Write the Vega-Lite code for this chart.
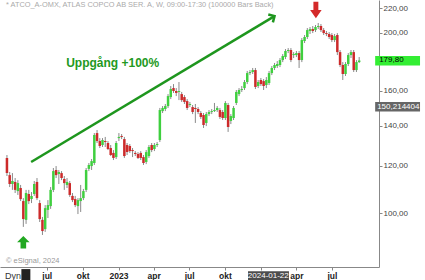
{
  "$schema": "https://vega.github.io/schema/vega-lite/v6.json",
  "width": 379,
  "height": 267,
  "autosize": {"type": "none"},
  "padding": {"left": 0, "top": 0, "right": 46, "bottom": 13},
  "background": "white",
  "config": {"view": {"stroke": null}, "font": "Liberation Sans", "axis": {"labelFont": "Liberation Sans"}},
  "data": {"values": [
    {"d":"2022-03-21","o":123.6,"c":116.6,"h":125.0,"l":115.3},
    {"d":"2022-03-28","o":115.7,"c":111.8,"h":117.1,"l":110.5},
    {"d":"2022-04-04","o":111.8,"c":113.1,"h":116.6,"l":109.3},
    {"d":"2022-04-11","o":112.7,"c":109.3,"h":114.4,"l":108.0},
    {"d":"2022-04-18","o":108.8,"c":112.2,"h":113.5,"l":107.2},
    {"d":"2022-04-25","o":110.1,"c":105.5,"h":111.4,"l":104.7},
    {"d":"2022-05-02","o":104.7,"c":97.7,"h":105.9,"l":94.8},
    {"d":"2022-05-09","o":97.4,"c":108.0,"h":109.3,"l":95.9},
    {"d":"2022-05-16","o":107.6,"c":104.7,"h":109.3,"l":103.5},
    {"d":"2022-05-23","o":105.5,"c":106.8,"h":108.4,"l":103.9},
    {"d":"2022-05-30","o":107.6,"c":111.8,"h":113.1,"l":106.8},
    {"d":"2022-06-06","o":112.7,"c":105.9,"h":114.4,"l":105.1},
    {"d":"2022-06-13","o":103.9,"c":97.7,"h":105.1,"l":96.6},
    {"d":"2022-06-20","o":97.4,"c":93.3,"h":98.5,"l":91.9},
    {"d":"2022-06-27","o":94.0,"c":101.9,"h":103.1,"l":93.0},
    {"d":"2022-07-04","o":101.2,"c":103.1,"h":105.1,"l":98.1},
    {"d":"2022-07-11","o":102.7,"c":109.3,"h":110.5,"l":101.6},
    {"d":"2022-07-18","o":109.3,"c":117.5,"h":118.9,"l":108.4},
    {"d":"2022-07-25","o":118.0,"c":115.7,"h":119.8,"l":114.4},
    {"d":"2022-08-01","o":116.2,"c":117.1,"h":118.0,"l":111.8},
    {"d":"2022-08-08","o":116.6,"c":114.4,"h":117.5,"l":113.5},
    {"d":"2022-08-15","o":114.0,"c":112.2,"h":115.3,"l":109.3},
    {"d":"2022-08-22","o":111.4,"c":112.7,"h":114.4,"l":110.1},
    {"d":"2022-08-29","o":112.2,"c":107.2,"h":113.1,"l":106.4},
    {"d":"2022-09-05","o":106.8,"c":105.1,"h":108.0,"l":104.3},
    {"d":"2022-09-12","o":105.5,"c":103.1,"h":106.8,"l":102.3},
    {"d":"2022-09-19","o":102.7,"c":105.1,"h":105.9,"l":99.6},
    {"d":"2022-09-26","o":104.7,"c":105.9,"h":111.4,"l":100.4},
    {"d":"2022-10-03","o":105.9,"c":108.8,"h":109.7,"l":105.1},
    {"d":"2022-10-10","o":109.3,"c":118.0,"h":118.9,"l":108.4},
    {"d":"2022-10-17","o":118.5,"c":120.3,"h":121.2,"l":117.5},
    {"d":"2022-10-24","o":119.8,"c":122.1,"h":123.1,"l":118.0},
    {"d":"2022-10-31","o":121.2,"c":135.0,"h":136.0,"l":120.3},
    {"d":"2022-11-07","o":136.0,"c":131.9,"h":137.6,"l":130.9},
    {"d":"2022-11-14","o":131.9,"c":129.4,"h":133.4,"l":128.4},
    {"d":"2022-11-21","o":129.9,"c":132.4,"h":133.4,"l":128.9},
    {"d":"2022-11-28","o":131.9,"c":131.4,"h":134.0,"l":128.9},
    {"d":"2022-12-05","o":130.9,"c":127.9,"h":131.9,"l":127.4},
    {"d":"2022-12-12","o":128.4,"c":125.0,"h":129.9,"l":124.5},
    {"d":"2022-12-19","o":126.0,"c":123.6,"h":127.4,"l":122.6},
    {"d":"2022-12-26","o":124.0,"c":130.9,"h":131.9,"l":123.1},
    {"d":"2023-01-02","o":133.4,"c":134.0,"h":136.0,"l":131.9},
    {"d":"2023-01-09","o":134.5,"c":134.0,"h":135.5,"l":132.9},
    {"d":"2023-01-16","o":132.9,"c":124.5,"h":134.0,"l":123.6},
    {"d":"2023-01-23","o":129.9,"c":126.4,"h":130.9,"l":125.0},
    {"d":"2023-01-30","o":129.4,"c":126.9,"h":130.4,"l":126.0},
    {"d":"2023-02-06","o":127.4,"c":126.9,"h":128.4,"l":124.0},
    {"d":"2023-02-13","o":126.0,"c":125.5,"h":126.9,"l":124.5},
    {"d":"2023-02-20","o":125.5,"c":123.6,"h":126.4,"l":123.1},
    {"d":"2023-02-27","o":126.0,"c":123.6,"h":126.9,"l":122.6},
    {"d":"2023-03-06","o":124.0,"c":121.2,"h":125.0,"l":120.3},
    {"d":"2023-03-13","o":121.7,"c":126.4,"h":127.4,"l":120.7},
    {"d":"2023-03-20","o":124.5,"c":128.9,"h":129.9,"l":123.6},
    {"d":"2023-03-27","o":129.9,"c":127.4,"h":130.9,"l":126.4},
    {"d":"2023-04-03","o":127.9,"c":129.9,"h":130.9,"l":126.9},
    {"d":"2023-04-10","o":129.9,"c":130.4,"h":131.4,"l":128.9},
    {"d":"2023-04-17","o":132.4,"c":148.6,"h":149.8,"l":131.4},
    {"d":"2023-04-24","o":148.0,"c":149.8,"h":150.9,"l":146.9},
    {"d":"2023-05-01","o":149.2,"c":150.9,"h":152.1,"l":148.0},
    {"d":"2023-05-08","o":150.9,"c":156.8,"h":158.0,"l":149.8},
    {"d":"2023-05-15","o":156.2,"c":161.1,"h":163.0,"l":155.0},
    {"d":"2023-05-22","o":161.7,"c":159.9,"h":164.2,"l":158.7},
    {"d":"2023-05-29","o":159.9,"c":158.7,"h":161.7,"l":156.8},
    {"d":"2023-06-05","o":159.3,"c":159.9,"h":165.5,"l":154.4},
    {"d":"2023-06-12","o":158.0,"c":154.4,"h":159.3,"l":153.3},
    {"d":"2023-06-19","o":156.2,"c":153.3,"h":157.4,"l":152.1},
    {"d":"2023-06-26","o":153.8,"c":149.8,"h":155.0,"l":148.6},
    {"d":"2023-07-03","o":151.5,"c":152.1,"h":153.3,"l":150.3},
    {"d":"2023-07-10","o":150.3,"c":147.5,"h":151.5,"l":146.3},
    {"d":"2023-07-17","o":149.8,"c":149.2,"h":152.1,"l":141.4},
    {"d":"2023-07-24","o":149.2,"c":147.5,"h":150.3,"l":146.3},
    {"d":"2023-07-31","o":146.9,"c":144.7,"h":148.0,"l":143.6},
    {"d":"2023-08-07","o":145.8,"c":140.3,"h":146.9,"l":138.7},
    {"d":"2023-08-14","o":141.4,"c":146.3,"h":147.5,"l":139.7},
    {"d":"2023-08-21","o":146.3,"c":147.5,"h":148.6,"l":145.2},
    {"d":"2023-08-28","o":147.5,"c":148.0,"h":149.2,"l":146.3},
    {"d":"2023-09-04","o":148.0,"c":148.6,"h":152.7,"l":147.5},
    {"d":"2023-09-11","o":148.6,"c":149.8,"h":150.9,"l":147.5},
    {"d":"2023-09-18","o":148.6,"c":144.7,"h":149.8,"l":143.6},
    {"d":"2023-09-25","o":147.5,"c":144.1,"h":148.6,"l":143.0},
    {"d":"2023-10-02","o":144.1,"c":152.7,"h":153.8,"l":143.0},
    {"d":"2023-10-09","o":151.5,"c":139.2,"h":152.7,"l":136.6},
    {"d":"2023-10-16","o":142.5,"c":145.2,"h":146.3,"l":140.8},
    {"d":"2023-10-23","o":144.1,"c":149.8,"h":150.9,"l":143.0},
    {"d":"2023-10-30","o":152.7,"c":159.3,"h":160.5,"l":151.5},
    {"d":"2023-11-06","o":158.0,"c":160.5,"h":161.7,"l":156.8},
    {"d":"2023-11-13","o":160.5,"c":161.1,"h":163.0,"l":159.3},
    {"d":"2023-11-20","o":161.7,"c":165.5,"h":166.8,"l":160.5},
    {"d":"2023-11-27","o":165.5,"c":171.3,"h":172.7,"l":164.2},
    {"d":"2023-12-04","o":171.3,"c":172.0,"h":173.3,"l":170.0},
    {"d":"2023-12-11","o":172.0,"c":173.3,"h":174.7,"l":170.7},
    {"d":"2023-12-18","o":173.3,"c":162.4,"h":174.7,"l":161.1},
    {"d":"2023-12-25","o":163.0,"c":165.5,"h":166.8,"l":161.7},
    {"d":"2024-01-01","o":166.8,"c":164.2,"h":168.1,"l":163.0},
    {"d":"2024-01-08","o":166.1,"c":163.0,"h":167.4,"l":160.5},
    {"d":"2024-01-15","o":163.6,"c":166.8,"h":168.7,"l":161.7},
    {"d":"2024-01-22","o":164.9,"c":171.3,"h":172.7,"l":163.6},
    {"d":"2024-01-29","o":171.3,"c":174.7,"h":176.0,"l":170.0},
    {"d":"2024-02-05","o":174.7,"c":176.7,"h":178.1,"l":173.3},
    {"d":"2024-02-12","o":176.0,"c":177.4,"h":179.4,"l":174.7},
    {"d":"2024-02-19","o":176.7,"c":180.1,"h":181.5,"l":175.3},
    {"d":"2024-02-26","o":180.1,"c":182.9,"h":184.3,"l":178.7},
    {"d":"2024-03-04","o":182.2,"c":186.5,"h":187.9,"l":180.8},
    {"d":"2024-03-11","o":186.5,"c":187.2,"h":188.6,"l":185.0},
    {"d":"2024-03-18","o":187.2,"c":180.1,"h":188.6,"l":178.7},
    {"d":"2024-03-25","o":183.6,"c":184.3,"h":185.7,"l":181.5},
    {"d":"2024-04-01","o":183.6,"c":185.0,"h":186.5,"l":182.2},
    {"d":"2024-04-08","o":185.0,"c":180.1,"h":186.5,"l":174.7},
    {"d":"2024-04-15","o":180.1,"c":194.5,"h":196.0,"l":178.7},
    {"d":"2024-04-22","o":193.8,"c":196.8,"h":198.3,"l":192.3},
    {"d":"2024-04-29","o":196.8,"c":202.1,"h":203.7,"l":195.3},
    {"d":"2024-05-06","o":201.4,"c":202.9,"h":204.5,"l":199.1},
    {"d":"2024-05-13","o":202.9,"c":201.4,"h":205.3,"l":199.8},
    {"d":"2024-05-20","o":202.1,"c":204.5,"h":206.1,"l":200.6},
    {"d":"2024-05-27","o":204.5,"c":205.3,"h":207.7,"l":202.9},
    {"d":"2024-06-03","o":205.3,"c":202.1,"h":206.9,"l":200.6},
    {"d":"2024-06-10","o":202.1,"c":199.8,"h":203.7,"l":198.3},
    {"d":"2024-06-17","o":199.8,"c":199.1,"h":201.4,"l":197.5},
    {"d":"2024-06-24","o":199.1,"c":196.8,"h":200.6,"l":195.3},
    {"d":"2024-07-01","o":198.3,"c":194.5,"h":199.8,"l":193.0},
    {"d":"2024-07-08","o":194.5,"c":197.5,"h":199.1,"l":193.0},
    {"d":"2024-07-15","o":198.3,"c":185.7,"h":199.8,"l":183.6},
    {"d":"2024-07-22","o":185.7,"c":176.7,"h":187.2,"l":175.3},
    {"d":"2024-07-29","o":176.7,"c":170.7,"h":178.7,"l":166.8},
    {"d":"2024-08-05","o":170.7,"c":177.4,"h":178.7,"l":169.4},
    {"d":"2024-08-12","o":177.4,"c":183.6,"h":185.0,"l":176.0},
    {"d":"2024-08-19","o":183.6,"c":185.7,"h":187.2,"l":181.5},
    {"d":"2024-08-26","o":185.7,"c":173.3,"h":187.2,"l":172.0},
    {"d":"2024-09-02","o":173.3,"c":178.7,"h":180.1,"l":172.0},
    {"d":"2024-09-09","o":178.7,"c":179.8,"h":182.2,"l":178.1}
  ]},
  "layer": [
    {
      "mark": {"type": "rule", "strokeWidth": 1},
      "encoding": {
        "x": {"field": "d", "type": "temporal",
          "scale": {"type": "utc", "domain": [{"year": 2022, "month": 3, "date": 16, "utc": true}, {"year": 2024, "month": 10, "date": 17, "utc": true}]},
          "axis": {"title": null, "grid": false,
            "values": [{"year": 2022, "month": 7, "date": 1, "utc": true}, {"year": 2022, "month": 10, "date": 1, "utc": true}, {"year": 2023, "month": 1, "date": 1, "utc": true}, {"year": 2023, "month": 4, "date": 1, "utc": true}, {"year": 2023, "month": 7, "date": 1, "utc": true}, {"year": 2023, "month": 10, "date": 1, "utc": true}, {"year": 2024, "month": 1, "date": 1, "utc": true}, {"year": 2024, "month": 4, "date": 1, "utc": true}, {"year": 2024, "month": 7, "date": 1, "utc": true}],
            "labelExpr": "utcmonth(datum.value)==0 ? (utcyear(datum.value)==2024 ? '' : ''+utcyear(datum.value)) : utcmonth(datum.value)==3 ? 'apr' : utcmonth(datum.value)==6 ? 'jul' : 'okt'",
            "domainColor": "#888888", "tickColor": "#888888", "tickSize": 3, "labelFontSize": 8.5, "labelFontWeight": "bold", "labelColor": "#222222", "labelPadding": 1, "labelFlush": false, "labelOverlap": false}},
        "y": {"field": "l", "type": "quantitative",
          "scale": {"type": "log", "domain": [81.25, 226.9], "nice": false},
          "axis": {"orient": "right", "title": null, "grid": false, "values": [100, 120, 140, 160, 200, 220],
            "labelExpr": "replace(format(datum.value, '.2f'), '.', ',')",
            "domainColor": "#888888", "tickColor": "#888888", "tickSize": 3, "labelFontSize": 8, "labelColor": "#444444", "labelPadding": 1}},
        "y2": {"field": "h"},
        "color": {"value": "#8a8a8a"}
      }
    },
    {
      "mark": {"type": "bar", "width": 2.5},
      "encoding": {
        "x": {"field": "d", "type": "temporal"},
        "y": {"field": "o", "type": "quantitative"},
        "y2": {"field": "c"},
        "color": {"condition": {"test": "datum.c >= datum.o", "value": "#3fcf3f"}, "value": "#cc2a2a"}
      }
    },
    {
      "data": {"values": [{}]},
      "mark": {"type": "text", "text": "* ATCO_A-OMX, ATLAS COPCO AB SER. A, W, 09:00-17:30 (100000 Bars Back)", "align": "left", "baseline": "middle", "fontSize": 7.4, "color": "#aaaaaa", "dx": 1},
      "encoding": {"x": {"datum": {"year": 2022, "month": 3, "date": 16, "utc": true}}, "y": {"datum": 222.5}}
    },
    {
      "data": {"values": [{}]},
      "mark": {"type": "text", "text": "Uppgång +100%", "align": "center", "baseline": "middle", "fontSize": 12, "fontWeight": "bold", "color": "#229922"},
      "encoding": {"x": {"datum": {"year": 2022, "month": 12, "date": 17, "utc": true}}, "y": {"datum": 178}}
    },
    {
      "data": {"values": [{}]},
      "mark": {"type": "rule", "strokeWidth": 2.5, "color": "#1e961e"},
      "encoding": {"x": {"datum": {"year": 2022, "month": 5, "date": 22, "utc": true}}, "y": {"datum": 121.7}, "x2": {"datum": {"year": 2024, "month": 2, "date": 5, "utc": true}}, "y2": {"datum": 213.3}}
    },
    {
      "data": {"values": [{}]},
      "mark": {"type": "point", "shape": "M-0.7,0.7L0,0L0.7,0.7", "filled": false, "size": 170, "angle": 59.7, "strokeWidth": 2.5, "color": "#1e961e", "opacity": 1},
      "encoding": {"x": {"datum": {"year": 2024, "month": 2, "date": 5, "utc": true}}, "y": {"datum": 213.3}}
    },
    {
      "data": {"values": [{}]},
      "mark": {"type": "point", "shape": "M-0.3,-1L0.3,-1L0.3,0L0.7,0L0,1L-0.7,0L-0.3,0Z", "filled": true, "size": 270, "color": "#d42a2a", "opacity": 1},
      "encoding": {"x": {"datum": {"year": 2024, "month": 5, "date": 21, "utc": true}}, "y": {"datum": 218.3}}
    },
    {
      "data": {"values": [{}]},
      "mark": {"type": "point", "shape": "M-0.45,1L0.45,1L0.45,0L1,0L0,-1L-1,0L-0.45,0Z", "filled": true, "size": 156, "color": "#22a822", "opacity": 1},
      "encoding": {"x": {"datum": {"year": 2022, "month": 5, "date": 2, "utc": true}}, "y": {"datum": 89.4}}
    },
    {
      "data": {"values": [{}]},
      "mark": {"type": "text", "text": "© eSignal, 2024", "align": "left", "baseline": "middle", "fontSize": 7.5, "color": "#999999", "dx": 1},
      "encoding": {"x": {"datum": {"year": 2022, "month": 3, "date": 16, "utc": true}}, "y": {"datum": 83.1}}
    },
    {
      "data": {"values": [{}]},
      "mark": {"type": "text", "text": "Dyn", "align": "left", "baseline": "middle", "fontSize": 9, "color": "#333333"},
      "encoding": {"x": {"datum": {"year": 2022, "month": 3, "date": 16, "utc": true}}, "y": {"datum": 78.6}}
    },
    {
      "data": {"values": [{}]},
      "mark": {"type": "rect", "color": "#222222"},
      "encoding": {"x": {"datum": {"year": 2022, "month": 4, "date": 27, "utc": true}}, "x2": {"datum": {"year": 2022, "month": 5, "date": 20, "utc": true}}, "y": {"datum": 80.6}, "y2": {"datum": 77.0}}
    },
    {
      "data": {"values": [{}]},
      "mark": {"type": "rect", "color": "#4d4d4d"},
      "encoding": {"x": {"datum": {"year": 2023, "month": 11, "date": 29, "utc": true}}, "x2": {"datum": {"year": 2024, "month": 3, "date": 13, "utc": true}}, "y": {"datum": 79.9}, "y2": {"datum": 77.0}}
    },
    {
      "data": {"values": [{}]},
      "mark": {"type": "text", "text": "2024-01-22", "align": "center", "baseline": "middle", "fontSize": 8, "color": "#ffffff"},
      "encoding": {"x": {"datum": {"year": 2024, "month": 1, "date": 20, "utc": true}}, "y": {"datum": 78.5}}
    },
    {
      "data": {"values": [{}]},
      "mark": {"type": "rect", "color": "#33ee33"},
      "encoding": {"x": {"datum": {"year": 2024, "month": 10, "date": 20, "utc": true}}, "x2": {"datum": {"year": 2025, "month": 2, "date": 12, "utc": true}}, "y": {"datum": 182.9}, "y2": {"datum": 176.4}}
    },
    {
      "data": {"values": [{}]},
      "mark": {"type": "text", "text": "179,80", "align": "left", "baseline": "middle", "fontSize": 8, "color": "#000000", "dx": 4},
      "encoding": {"x": {"datum": {"year": 2024, "month": 10, "date": 20, "utc": true}}, "y": {"datum": 179.8}}
    },
    {
      "data": {"values": [{}]},
      "mark": {"type": "rect", "color": "#666666"},
      "encoding": {"x": {"datum": {"year": 2024, "month": 10, "date": 20, "utc": true}}, "x2": {"datum": {"year": 2025, "month": 2, "date": 12, "utc": true}}, "y": {"datum": 153.3}, "y2": {"datum": 147.7}}
    },
    {
      "data": {"values": [{}]},
      "mark": {"type": "text", "text": "150,214404", "align": "left", "baseline": "middle", "fontSize": 8, "color": "#ffffff", "dx": 2},
      "encoding": {"x": {"datum": {"year": 2024, "month": 10, "date": 20, "utc": true}}, "y": {"datum": 150.21}}
    }
  ]
}
